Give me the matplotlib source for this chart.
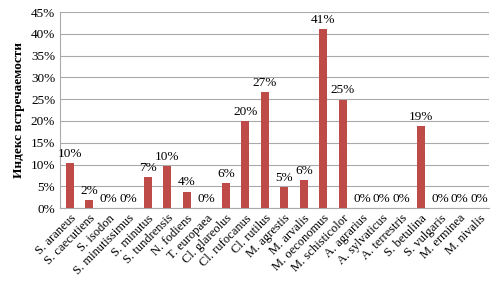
import numpy as np
import matplotlib
matplotlib.use("Agg")
import matplotlib.pyplot as plt
from matplotlib.ticker import PercentFormatter

species = ["S. araneus", "S. caecutiens", "S. isodon", "S. minutissimus", "S. minutus",
           "S. tundrensis", "N. fodiens", "T. europaea", "Cl. glareolus", "Cl. rufocanus",
           "Cl. rutilus", "M. agrestis", "M. arvalis", "M. oeconomus", "M. schisticolor",
           "A. agrarius", "A. sylvaticus", "A. terrestris", "S. betulina", "S. vulgaris",
           "M. erminea", "M. nivalis"]
index_pct = [10.3, 1.8, 0, 0, 7.1, 9.6, 3.7, 0, 5.7, 19.9, 26.6, 4.8, 6.4, 41.1, 24.9,
             0, 0, 0, 18.8, 0, 0, 0]

plt.rcParams['font.family'] = ['Liberation Serif', 'DejaVu Serif']

fig, ax = plt.subplots(figsize=(5.01, 2.89), dpi=100)
fig.subplots_adjust(left=0.12, right=0.976, top=0.958, bottom=0.28)

x = np.arange(len(species))
ax.bar(x, index_pct, width=0.4, color='#BE4B48', zorder=3)
for xi, v in zip(x, index_pct):
    ax.text(xi, v + 0.8, f"{v:.0f}%", ha='center', va='bottom', fontsize=9.5)

ax.set_xlim(-0.5, len(species) - 0.5)
ax.set_ylim(0, 45)
ax.set_yticks(np.arange(0, 46, 5))
ax.yaxis.set_major_formatter(PercentFormatter(decimals=0))
ax.set_xticks(x)
ax.set_xticklabels(species, rotation=45, ha='right', rotation_mode='anchor', fontsize=9)
ax.tick_params(axis='y', labelsize=9.5, length=0)
ax.tick_params(axis='x', length=0, pad=3)
ax.grid(axis='y', color='#AAAAAA', linewidth=0.8, zorder=0)
for s in ['top', 'right']:
    ax.spines[s].set_visible(False)
ax.spines['left'].set_color('#AAAAAA')
ax.spines['bottom'].set_color('#AAAAAA')
ax.set_ylabel('Индекс встречаемости', fontsize=9.5, fontweight='bold')

fig.savefig('out.png', dpi=100)
